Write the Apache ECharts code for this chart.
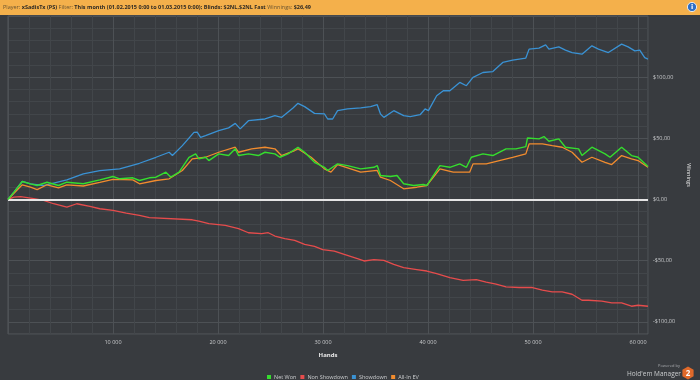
<!DOCTYPE html>
<html>
<head>
<meta charset="utf-8">
<script src="https://cdn.jsdelivr.net/npm/echarts@6/dist/echarts.min.js"></script>
<style>
html,body{margin:0;padding:0;background:#383b3f;}
#c{width:700px;height:380px;}
</style>
</head>
<body>
<div id="c"></div>
<script>
// ---- data (hands, $ winnings) ----
const netWonHands = [0,566,1358,2142,2774,3717,4811,5604,7170,8745,10000,10632,11887,12519,13462,14094,15038,15509,16292,17236,17868,18179,18811,19123,20066,21009,21642,21953,22896,23840,24472,25415,25887,26670,27613,28245,29189,30132,30443,31387,32330,33585,34849,35160,35472,36415,37047,37679,38623,39566,39877,41132,42075,43019,43651,44123,45226,46170,47425,48368,49311,49472,50566,51038,51509,52453,53085,54340,54660,55604,56858,57330,58434,59377,60000,60943];
const netWonValues = [0,6,14.7,12.8,11.4,14.1,11.4,14.1,12.8,16,18.8,16.9,17.7,15.5,17.7,18.2,22.3,18.2,22.3,34.5,37.3,33.2,34.5,31.8,37.3,35.9,41.4,35.9,37.3,35.9,38.6,37.3,34.5,37.3,42.7,38.6,30.4,26.3,23.7,29.1,27.7,25,26.3,27.7,19.6,18.8,19.6,12.8,11.4,12.2,11.4,27.7,26.3,29.1,26.3,34.5,37.3,35.9,41.4,41.4,43.2,50.3,49.5,51.4,47.6,49.5,42.7,41.4,35.9,42.7,37.3,34.5,42.7,35.9,34.5,26.9];

const nonShowdownHands = [0,566,1198,2453,3396,4340,5604,6547,7802,8745,10000,11264,12519,13462,17547,18179,19123,20698,21953,22896,24151,24783,25415,26358,27302,28245,29189,29972,31075,32019,33274,33906,34849,35792,36736,37679,38934,39877,40821,42075,43340,44594,45538,46481,47425,48679,49943,50887,51830,52774,53717,54660,55283,56547,57491,58434,59377,60000,60943];
const nonShowdownValues = [0,1.9,2.4,0.6,-0.8,-3.5,-6.3,-3.5,-5.7,-7.6,-9,-11.2,-13,-14.9,-16.6,-17.7,-19.8,-21.2,-23.9,-27.2,-28,-27.2,-29.9,-32.1,-33.4,-36.7,-38.3,-41,-42.2,-44.9,-48.4,-50.3,-49.2,-49.8,-53,-55.7,-57.3,-58.5,-60.6,-63.9,-66.1,-65.5,-67.5,-69.3,-71.5,-72,-72,-74.2,-75.6,-75.6,-77.5,-82.4,-82.4,-83.2,-84.6,-84.6,-87.3,-86.5,-87.3];

const showdownHands = [0,566,1358,2142,3368,5604,7170,8745,10632,12519,14094,15349,15660,16604,17708,18019,18340,18811,20066,21009,21642,22113,22896,24472,25415,26038,27142,27613,28245,29189,30132,30443,30915,31387,32330,33585,34528,35160,35472,35792,36736,37679,38302,39245,39717,40038,40821,41453,42075,43019,43651,44283,45226,46170,47113,48057,49311,49623,50566,51198,51509,52453,53085,53717,54660,55604,56226,57170,58434,59057,59689,60160,60632,60943];
const showdownValues = [0,6,14.7,12.8,11.4,16,21,23.6,25,29.6,34.5,38.6,35.9,44,54.9,55,50.8,52.2,56.3,58.5,62.2,57.7,64.4,65.8,68.5,67.1,74.8,78.6,75.9,70.4,69.9,65.8,65.8,72.6,74,74.8,75.9,77.5,69.9,67.1,72.6,68.5,67.7,69.3,74,72.6,84.8,88.9,88.9,95.7,93,99.8,103.8,104.6,112,113.9,115.6,122.9,123.7,126.4,122.9,124.8,122.1,120.1,118.8,125.6,122.9,120.1,127,124.8,121.5,122.1,116,114.8];

const allInEVHands = [0,566,1358,2142,2774,3717,4811,5604,7170,8745,10000,11887,12519,14094,15349,16604,17547,18811,20066,21642,21953,23208,24472,25415,26038,27302,27613,28868,30132,30755,31387,33585,35160,35472,36415,37679,38934,39877,41132,42396,43962,44283,45538,46792,48057,49311,49623,50887,51830,52774,53717,54660,55604,56858,57491,58434,59377,60000,60943];
const allInEVValues = [0,5,12,10,8,12,9.5,12,11,14,16.5,16,12.8,15.5,16.9,23.7,33.2,34.5,38.6,42.7,38.6,41.4,42.7,41.4,35.9,40,41.4,34.5,25,22.3,28.5,22.3,23.7,18.2,15.5,8.7,10,11.4,25,22.3,22.3,29.1,29.1,31.8,34.5,37.3,45.4,45.4,44,42.7,38.6,30.4,34.5,30.4,28.5,35.9,33.2,31.8,26.3];

const seriesNames = ['Net Won','Non Showdown','Showdown','All-In EV'];
const xMin = 0, xMax = 60950, xInterval = 2000;
const yMin = -110, yMax = 150, yInterval = 10;

// ---- styles ----
const BG = '#383b3f';
const MINOR = '#42464a';
const MAJOR = '#4d5155';
const TXT = '#c9cbcd';
const FONT = 'Open Sans';

function zip(h, v){ return h.map((x,i)=>[x, v[i]]); }
function fmtHands(v){ return String(v).replace(/\B(?=(\d{3})+(?!\d))/g,' '); }
function fmtMoney(v){ return (v<0?'-':'') + '$' + Math.abs(v) + ',00'; }

const chart = echarts.init(document.getElementById('c'), null, {renderer:'canvas'});
const lineCommon = {type:'line', showSymbol:false, symbol:'none', smooth:false, animation:false};

chart.setOption({
  backgroundColor: BG,
  animation:false,
  grid:{left:8, right:47, top:16, bottom:46, show:true, borderColor:'#54585c', borderWidth:1, backgroundColor:'transparent'},
  xAxis:{
    type:'value', min:xMin, max:xMax, interval:xInterval,
    name:'Hands', nameLocation:'middle', nameGap:18,
    nameTextStyle:{color:'#e8e8e8', fontSize:6, fontWeight:'bold', fontFamily:FONT},
    axisLine:{show:false}, axisTick:{show:false},
    axisLabel:{color:TXT, fontSize:5.5, fontFamily:FONT, margin:5,
      formatter:v => (v>0 && v%10000===0) ? fmtHands(v) : ''},
    splitLine:{show:true, lineStyle:{color:[MAJOR,MINOR,MINOR,MINOR,MINOR], width:1}}
  },
  yAxis:{
    type:'value', position:'right', min:yMin, max:yMax, interval:yInterval,
    name:'Winnings', nameLocation:'middle', nameGap:33, nameRotate:-90,
    nameTextStyle:{color:'#e8e8e8', fontSize:5.5, fontFamily:FONT},
    axisLine:{show:false}, axisTick:{show:false},
    axisLabel:{color:TXT, fontSize:5.5, fontFamily:FONT, margin:5,
      formatter:v => (v%50===0 && v!==yMax) ? fmtMoney(v) : ''},
    splitLine:{show:true, lineStyle:{color:[MINOR,MAJOR,MINOR,MINOR,MINOR], width:1}}
  },
  legend:{
    left:262, top:369, icon:'rect', itemWidth:4, itemHeight:4, itemGap:4,
    data:seriesNames,
    textStyle:{color:TXT, fontSize:5.5, fontFamily:FONT, padding:[0,0,0,-2]}
  },
  series:[
    Object.assign({}, lineCommon, {name:seriesNames[1], data:zip(nonShowdownHands, nonShowdownValues), color:'#e64c4c', lineStyle:{width:1.3}, z:2,
      markLine:{silent:true, symbol:['none','none'], label:{show:false}, animation:false,
        lineStyle:{color:'#e4e4e4', width:2, type:'solid'}, data:[{yAxis:0}]}}),
    Object.assign({}, lineCommon, {name:seriesNames[2], data:zip(showdownHands, showdownValues), color:'#3a92d4', lineStyle:{width:1.3}, z:3}),
    Object.assign({}, lineCommon, {name:seriesNames[3], data:zip(allInEVHands, allInEVValues), color:'#f28c2e', lineStyle:{width:1.3}, z:4}),
    Object.assign({}, lineCommon, {name:seriesNames[0], data:zip(netWonHands, netWonValues), color:'#35de2e', lineStyle:{width:1.4}, z:5})
  ],
  graphic:[
    {type:'rect', left:0, top:0, shape:{x:0,y:0,width:700,height:15}, style:{fill:'#f4b04b'}, z:10},
    {type:'text', x:3, y:7.5, z:11, style:{
      text:'{l|Player:} {b|xSadisTx (PS)} {l|Filter:} {b|This month (01.02.2015 0:00 to 01.03.2015 0:00); Blinds: $2NL,$2NL Fast} {l|Winnings:} {b|$26,49}',
      verticalAlign:'middle', fontSize:5.5, fontFamily:FONT,
      rich:{
        l:{fill:'#6a5532', fontSize:5.5, fontFamily:FONT},
        b:{fill:'#2e2a24', fontSize:5.5, fontWeight:'bold', fontFamily:FONT}
      }}},
    {type:'circle', shape:{cx:692, cy:7, r:4.6}, style:{fill:'#2d6fc6', stroke:'#ffffff', lineWidth:0.8}, z:11},
    {type:'text', x:692, y:7.3, z:12, style:{text:'i', fill:'#ffffff', fontSize:6.5, fontWeight:'bold', fontFamily:'DejaVu Sans', align:'center', verticalAlign:'middle'}},
    {type:'text', x:680, y:366, z:11, style:{text:'Powered by', fill:'#a8aaad', fontSize:4, fontFamily:FONT, align:'right', verticalAlign:'middle'}},
    {type:'text', x:681, y:374, z:11, style:{text:"Hold'em Manager", fill:'#c9cbcd', fontSize:6.5, fontFamily:FONT, align:'right', verticalAlign:'middle'}},
    {type:'polygon', z:11, shape:{points:[[688,366.5],[693.6,369.7],[693.6,376.3],[688,379.5],[682.4,376.3],[682.4,369.7]]}, style:{fill:'#e0692a'}},
    {type:'text', x:688, y:373.3, z:12, style:{text:'2', fill:'#ffffff', fontSize:8, fontWeight:'bold', fontFamily:FONT, align:'center', verticalAlign:'middle'}}
  ]
});
</script>
</body>
</html>
